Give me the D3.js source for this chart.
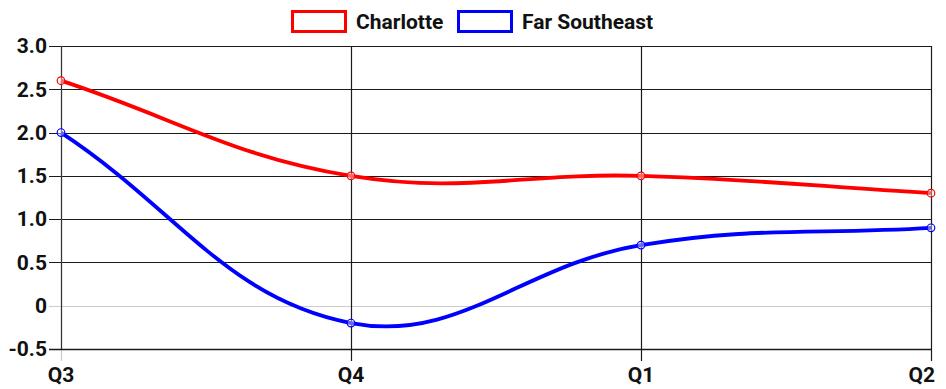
<!DOCTYPE html>
<html>
<head>
<meta charset="utf-8">
<script src="https://cdn.jsdelivr.net/npm/d3@7"></script>
<style>
  html, body { margin: 0; padding: 0; background: #fff; }
  svg { display: block; font-family: Roboto, "Noto Sans", sans-serif; }
</style>
</head>
<body>
<svg id="chart" width="946" height="389"></svg>
<script>
// Quarters along the x axis
const categories = ["Q3", "Q4", "Q1", "Q2"];
// Series values per quarter
const charlotte = [2.6, 1.5, 1.5, 1.3];
const farSoutheast = [2.0, -0.2, 0.7, 0.9];
// Y axis tick values
const yTicks = [-0.5, 0, 0.5, 1.0, 1.5, 2.0, 2.5, 3.0];
const seriesNames = ["Charlotte", "Far Southeast"];
const seriesColors = ["#ff0000", "#0000ff"];

const series = [
  { name: seriesNames[0], color: seriesColors[0], values: charlotte },
  { name: seriesNames[1], color: seriesColors[1], values: farSoutheast }
];

const svg = d3.select("#chart");
const margin = { left: 61, right: 15, top: 46, bottom: 40 };
const W = 946, H = 389;
const FONT = 21;

const x = d3.scalePoint().domain(categories).range([margin.left, W - margin.right]);
const y = d3.scaleLinear().domain([-0.5, 3.0]).range([H - margin.bottom, margin.top]);

const x0 = x.range()[0], x1 = x.range()[1];
const yBottom = y(-0.5), yTop = y(3.0);

// Horizontal grid lines (zero line lighter)
svg.append("g").selectAll("line").data(yTicks).join("line")
  .attr("x1", x0 - 12).attr("x2", x1)
  .attr("y1", d => Math.round(y(d)) + 0.5).attr("y2", d => Math.round(y(d)) + 0.5)
  .attr("stroke", d => d === 0 ? "#cccccc" : "#1a1a1a")
  .attr("stroke-width", 1.2);

// Vertical grid lines, extending below the plot as ticks
svg.append("g").selectAll("line").data(categories).join("line")
  .attr("x1", d => Math.round(x(d)) + 0.5).attr("x2", d => Math.round(x(d)) + 0.5)
  .attr("y1", yTop).attr("y2", yBottom + 12)
  .attr("stroke", (d, i) => i === 0 ? "#cccccc" : "#1a1a1a")
  .attr("stroke-width", 1.2);

// Axis border lines
svg.append("line")
  .attr("x1", x0 + 0.5).attr("x2", x0 + 0.5).attr("y1", yTop).attr("y2", yBottom)
  .attr("stroke", "#333").attr("stroke-width", 1.2);
svg.append("line")
  .attr("x1", x0 - 12).attr("x2", x1).attr("y1", Math.round(yBottom) + 0.5).attr("y2", Math.round(yBottom) + 0.5)
  .attr("stroke", "#1a1a1a").attr("stroke-width", 1.4);

// Y tick labels
svg.append("g").selectAll("text").data(yTicks).join("text")
  .attr("x", x0 - 14).attr("y", d => y(d))
  .attr("dy", "0.35em")
  .attr("text-anchor", "end")
  .attr("font-size", FONT).attr("font-weight", "bold").attr("fill", "#111")
  .text(d => d === 0 ? "0" : d.toFixed(1));

// X tick labels (last one kept inside the canvas)
svg.append("g").selectAll("text").data(categories).join("text")
  .attr("x", (d, i) => i === categories.length - 1 ? W - 11 : x(d))
  .attr("y", 382)
  .attr("text-anchor", (d, i) => i === categories.length - 1 ? "end" : "middle")
  .attr("font-size", FONT).attr("font-weight", "bold").attr("fill", "#111")
  .text(d => d);

// Tension spline through the points, like a smoothed line chart
function splinePath(pts, t) {
  const ctrl = pts.map((p, i) => {
    const prev = pts[i - 1] || p, next = pts[i + 1] || p;
    const d01 = Math.hypot(p[0] - prev[0], p[1] - prev[1]);
    const d12 = Math.hypot(next[0] - p[0], next[1] - p[1]);
    let s01 = d01 / (d01 + d12), s12 = d12 / (d01 + d12);
    if (isNaN(s01)) s01 = 0;
    if (isNaN(s12)) s12 = 0;
    const fa = t * s01, fb = t * s12;
    return {
      prev: [p[0] - fa * (next[0] - prev[0]), p[1] - fa * (next[1] - prev[1])],
      next: [p[0] + fb * (next[0] - prev[0]), p[1] + fb * (next[1] - prev[1])]
    };
  });
  const path = d3.path();
  path.moveTo(pts[0][0], pts[0][1]);
  for (let i = 1; i < pts.length; i++) {
    const c1 = ctrl[i - 1].next, c2 = ctrl[i].prev;
    path.bezierCurveTo(c1[0], c1[1], c2[0], c2[1], pts[i][0], pts[i][1]);
  }
  return path.toString();
}

const lines = svg.append("g");
series.forEach(s => {
  const pts = s.values.map((v, i) => [x(categories[i]), y(v)]);
  lines.append("path")
    .attr("d", splinePath(pts, 0.4))
    .attr("fill", "none")
    .attr("stroke", s.color)
    .attr("stroke-width", 3.8);
  lines.append("g").selectAll("circle").data(pts).join("circle")
    .attr("cx", d => d[0]).attr("cy", d => d[1]).attr("r", 3.8)
    .attr("fill", "rgba(255,255,255,0.4)")
    .attr("stroke", s.color).attr("stroke-width", 1.2);
});

// Legend
const legend = svg.append("g");
const legendItems = [
  { name: series[0].name, color: series[0].color, bx: 291, tx: 356 },
  { name: series[1].name, color: series[1].color, bx: 457, tx: 522 }
];
legendItems.forEach(it => {
  legend.append("rect")
    .attr("x", it.bx + 1.5).attr("y", 11.5).attr("width", 53).attr("height", 20)
    .attr("fill", "#fff").attr("stroke", it.color).attr("stroke-width", 3);
  legend.append("text")
    .attr("x", it.tx).attr("y", 28.5)
    .attr("font-size", FONT).attr("font-weight", "bold").attr("fill", "#111")
    .text(it.name);
});
</script>
</body>
</html>
